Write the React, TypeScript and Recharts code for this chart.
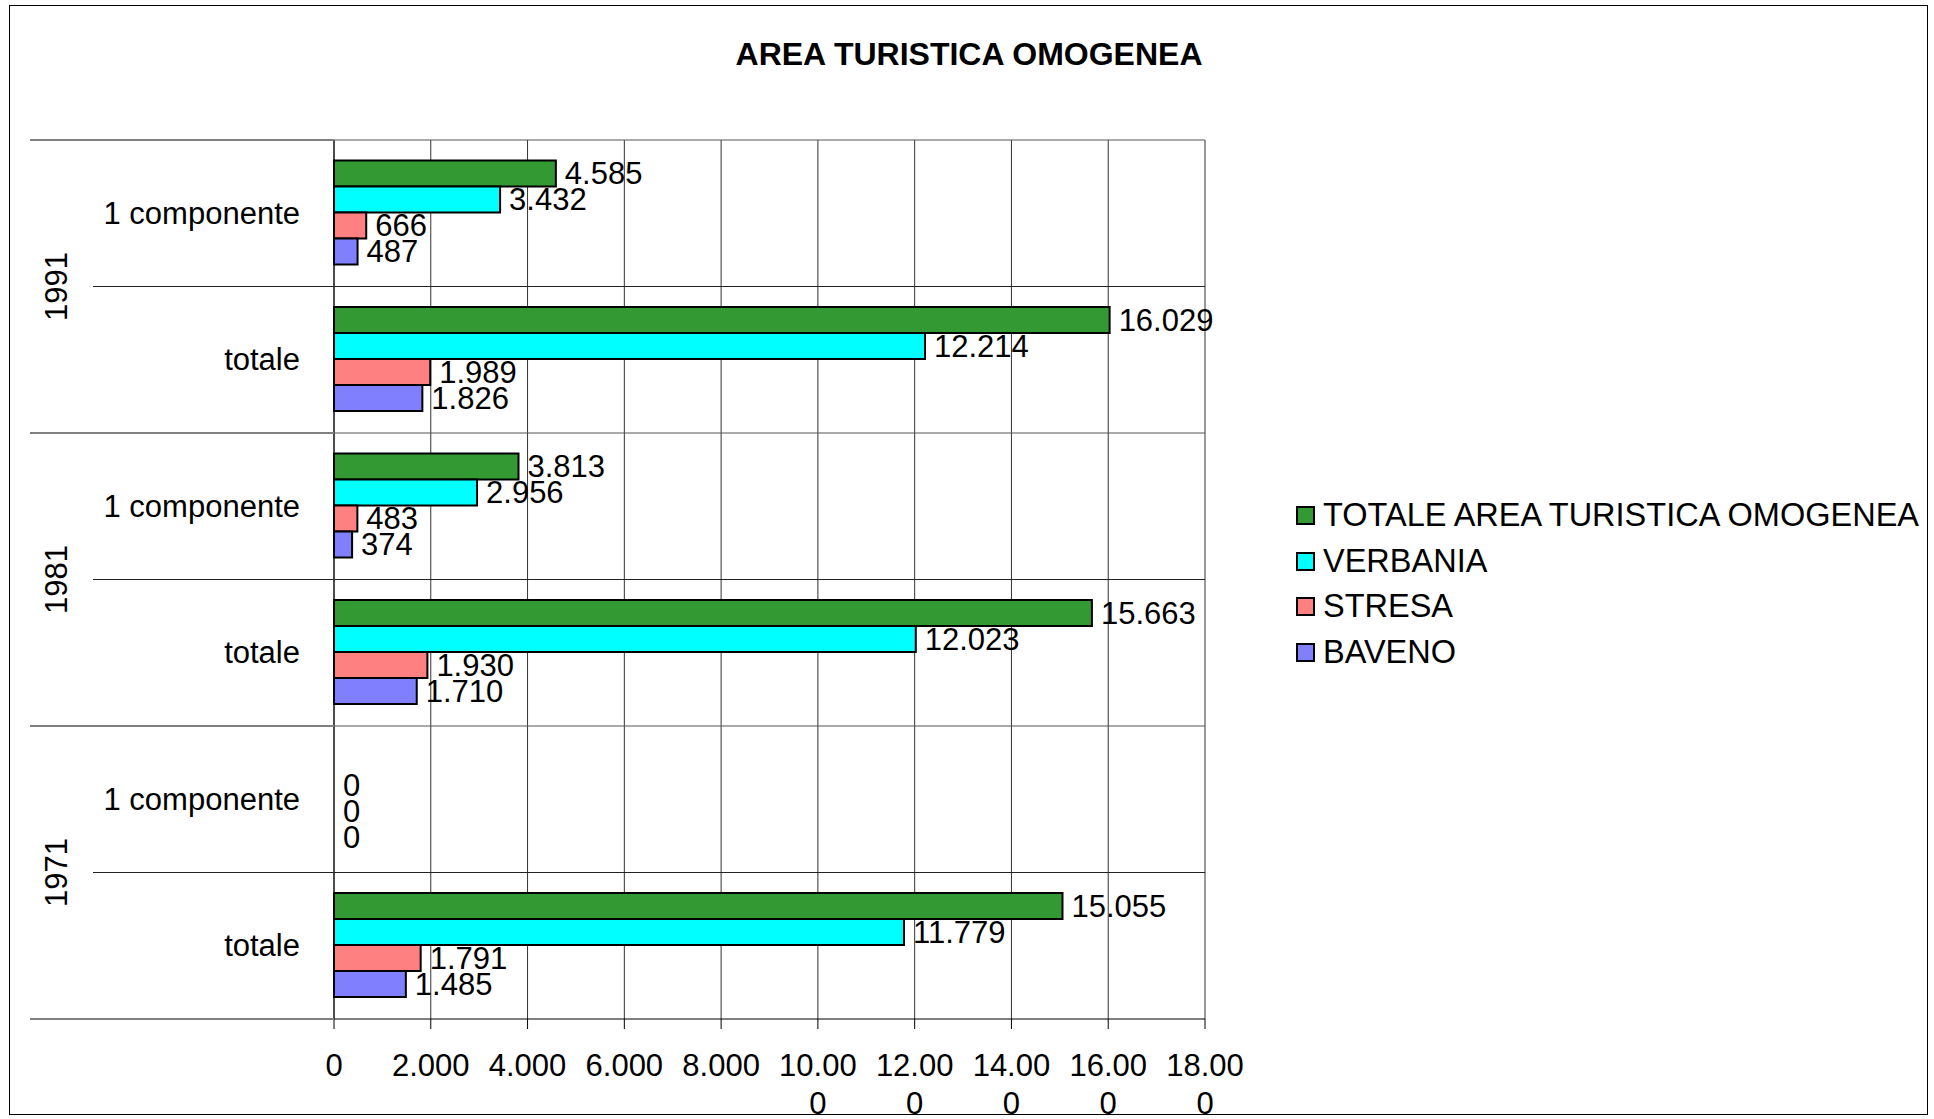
import React from 'react';
import { BarChart, Bar, Cell, XAxis, YAxis, CartesianGrid, Legend, LabelList } from 'recharts';

// --- data ---
const years = ['1991', '1981', '1971'];
const subCategories = ['1 componente', 'totale'];
const seriesNames = ['TOTALE AREA TURISTICA OMOGENEA', 'VERBANIA', 'STRESA', 'BAVENO'];
const seriesColors = ['#339933', '#00FFFF', '#FF8080', '#8080FF'];
const totaleArea = [4585, 16029, 3813, 15663, null, 15055];
const verbania = [3432, 12214, 2956, 12023, 0, 11779];
const stresa = [666, 1989, 483, 1930, 0, 1791];
const baveno = [487, 1826, 374, 1710, 0, 1485];
const xTicks = [0, 2000, 4000, 6000, 8000, 10000, 12000, 14000, 16000, 18000];

const seriesValues = [totaleArea, verbania, stresa, baveno];

const rows = years.flatMap((year, i) =>
  subCategories.map((sub, j) => {
    const k = i * subCategories.length + j;
    const row: Record<string, any> = { key: `${year}|${sub}`, year, sub, first: j === 0 };
    seriesValues.forEach((vals, s) => {
      row[`s${s}`] = vals[k];
    });
    return row;
  })
);

// --- layout ---
const W = 1934;
const H = 1119;
const PLOT_LEFT = 334;
const PLOT_RIGHT = 1205;
const PLOT_TOP = 140;
const PLOT_BOTTOM = 1019;
const BAND = (PLOT_BOTTOM - PLOT_TOP) / rows.length;
const FONT = '"Liberation Sans", Arial, sans-serif';
const FS = 31;

const fmt = (n: number) => String(n).replace(/\B(?=(\d{3})+(?!\d))/g, '.');

const CategoryTick = (props: any) => {
  const { y, payload, index } = props;
  const row = rows.find((r) => r.key === payload.value) ?? rows[index];
  const half = BAND / 2;
  const isLast = index === rows.length - 1;
  return (
    <g>
      <text x={300} y={y} textAnchor="end" dominantBaseline="central" fontSize={FS} fontFamily={FONT} fill="#000">
        {row.sub}
      </text>
      {row.first && (
        <>
          <line x1={30} x2={PLOT_LEFT} y1={y - half} y2={y - half} stroke="#808080" strokeWidth={2} />
          <line x1={PLOT_LEFT} x2={PLOT_RIGHT} y1={y - half} y2={y - half} stroke="#555" strokeWidth={1} />
          <line x1={93} x2={PLOT_RIGHT} y1={y + half} y2={y + half} stroke="#222" strokeWidth={1} />
          <text
            x={56}
            y={y + half}
            transform={`rotate(-90, 56, ${y + half})`}
            textAnchor="middle"
            dominantBaseline="central"
            fontSize={FS}
            fontFamily={FONT}
            fill="#000"
          >
            {row.year}
          </text>
        </>
      )}
      {isLast && <line x1={30} x2={PLOT_LEFT} y1={y + half} y2={y + half} stroke="#808080" strokeWidth={2} />}
    </g>
  );
};

const ValueTick = (props: any) => {
  const { x, payload } = props;
  const s = fmt(payload.value);
  const lines = s.length > 5 ? [s.slice(0, 5), s.slice(5)] : [s];
  return (
    <g>
      {lines.map((l, i) => (
        <text
          key={i}
          x={x}
          y={PLOT_BOTTOM + 46 + i * 38}
          textAnchor="middle"
          dominantBaseline="central"
          fontSize={FS}
          fontFamily={FONT}
          fill="#000"
        >
          {l}
        </text>
      ))}
    </g>
  );
};

const BarValueLabel = (props: any) => {
  const { x, y, width, height, value } = props;
  if (value === null || value === undefined) return null;
  return (
    <text
      x={Number(x) + Number(width) + 9}
      y={Number(y) + Number(height) / 2}
      dominantBaseline="central"
      fontSize={FS}
      fontFamily={FONT}
      fill="#000"
    >
      {fmt(value)}
    </text>
  );
};

const LegendBox = () => (
  <div style={{ fontFamily: FONT, fontSize: 32.5, color: '#000' }}>
    {seriesNames.map((name, i) => (
      <div key={name} style={{ display: 'flex', alignItems: 'center', height: 45.5, whiteSpace: 'nowrap' }}>
        <span
          style={{
            display: 'inline-block',
            width: 19,
            height: 19,
            boxSizing: 'border-box',
            background: seriesColors[i],
            border: '2px solid #000',
            marginRight: 8,
          }}
        />
        <span>{name}</span>
      </div>
    ))}
  </div>
);

// zero values still need a (hidden) rectangle so their "0" label is drawn
const zeroMinSize = (value: any) => (value === 0 ? 0.01 : 0);

export default function App() {
  return (
    <div style={{ position: 'absolute', left: 0, top: 0, width: W, height: H, background: '#fff' }}>
      <div
        style={{
          position: 'absolute',
          left: 9,
          top: 5,
          width: 1919,
          height: 1110,
          boxSizing: 'border-box',
          border: '1px solid #000',
        }}
      />
      <div
        style={{
          position: 'absolute',
          left: 0,
          top: 34,
          width: 1938,
          textAlign: 'center',
          fontFamily: FONT,
          fontWeight: 'bold',
          fontSize: 32,
          lineHeight: '40px',
        }}
      >
        AREA TURISTICA OMOGENEA
      </div>
      <BarChart
        width={W}
        height={H}
        data={rows}
        layout="vertical"
        margin={{ top: PLOT_TOP, right: W - PLOT_RIGHT, bottom: 10, left: 0 }}
        barCategoryGap="14%"
        barGap={0}
      >
        <CartesianGrid horizontal={false} vertical stroke="#333" strokeWidth={1} />
        <XAxis
          type="number"
          domain={[0, 18000]}
          ticks={xTicks}
          interval={0}
          height={90}
          axisLine={{ stroke: '#000' }}
          tickLine={{ stroke: '#000' }}
          tickSize={10}
          tick={<ValueTick />}
        />
        <YAxis
          type="category"
          dataKey="key"
          width={PLOT_LEFT}
          axisLine={{ stroke: '#000' }}
          tickLine={false}
          interval={0}
          tick={<CategoryTick />}
        />
        <Legend
          layout="vertical"
          align="center"
          verticalAlign="middle"
          wrapperStyle={{ left: 1296, top: 493, width: 630, right: 'auto', bottom: 'auto' }}
          content={<LegendBox />}
        />
        {seriesNames.map((name, s) => (
          <Bar
            key={name}
            dataKey={`s${s}`}
            name={name}
            fill={seriesColors[s]}
            stroke="#000"
            strokeWidth={2}
            minPointSize={zeroMinSize}
            isAnimationActive={false}
          >
            {rows.map((r) => (
              <Cell key={r.key} stroke={r[`s${s}`] === 0 ? 'none' : '#000'} />
            ))}
            <LabelList dataKey={`s${s}`} content={<BarValueLabel />} />
          </Bar>
        ))}
      </BarChart>
    </div>
  );
}
